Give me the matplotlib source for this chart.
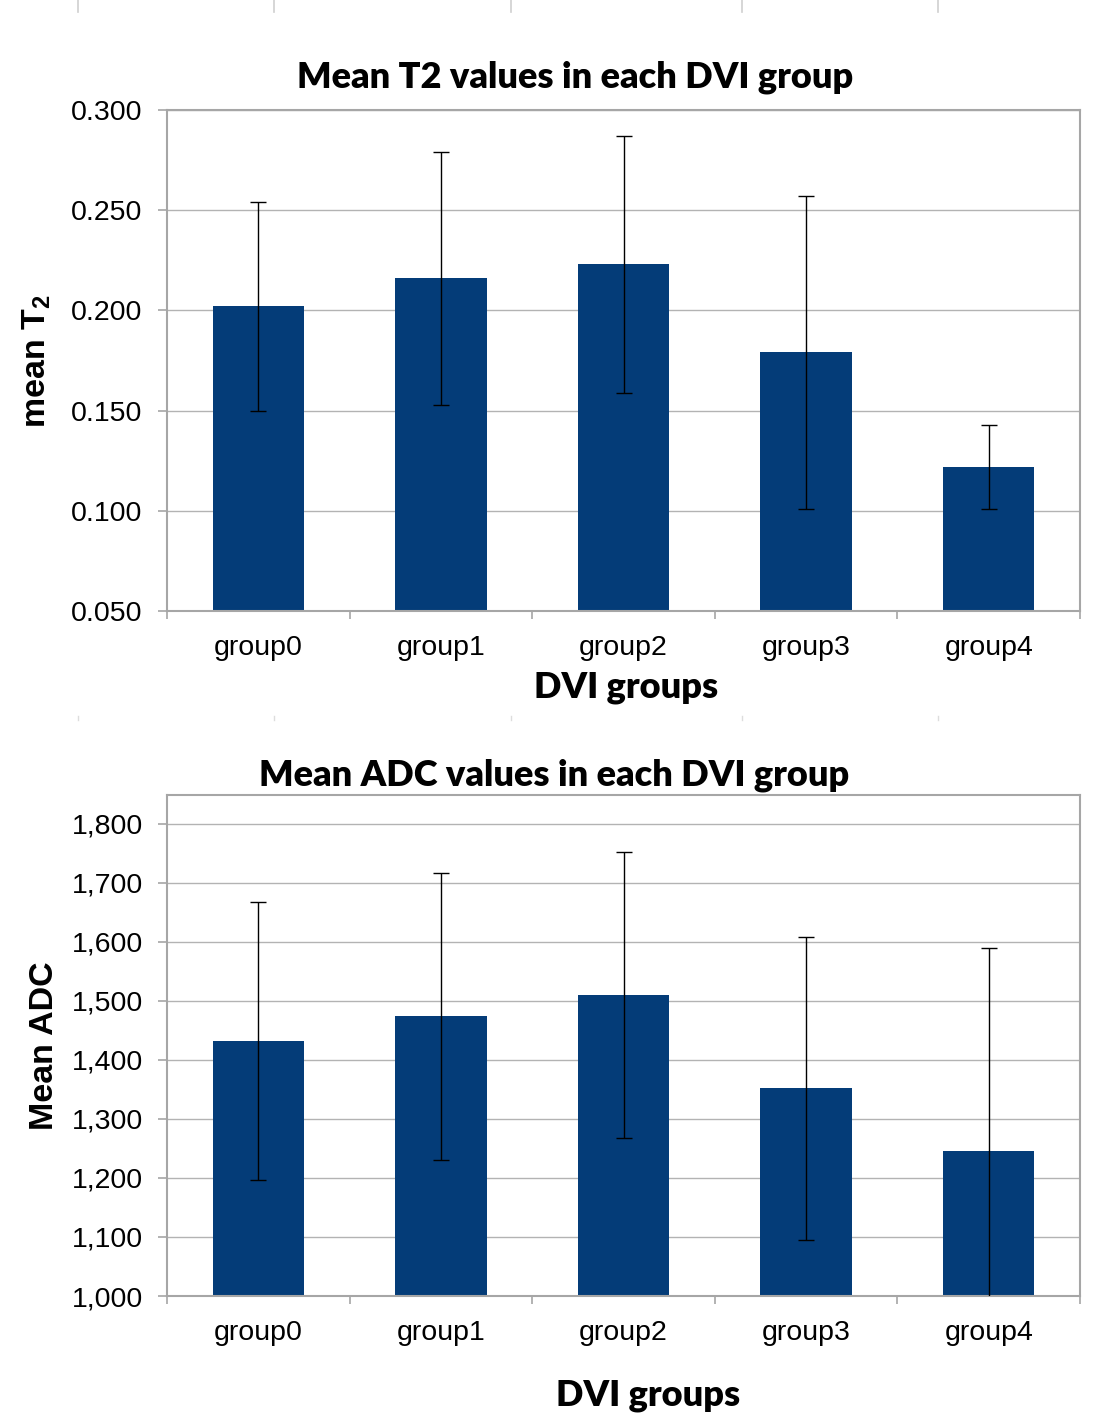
import matplotlib
matplotlib.use("Agg")
import matplotlib.pyplot as plt
from matplotlib.lines import Line2D
import numpy as np

categories = ["group0", "group1", "group2", "group3", "group4"]
t2_mean = [0.202, 0.216, 0.223, 0.179, 0.122]
t2_err = [0.052, 0.063, 0.064, 0.078, 0.021]
adc_mean = [1432, 1474, 1510, 1352, 1245]
adc_err = [236, 243, 242, 257, 344]

t2_ticks = [0.05, 0.10, 0.15, 0.20, 0.25, 0.30]
adc_ticks = [1000, 1100, 1200, 1300, 1400, 1500, 1600, 1700, 1800]

BAR = "#043c78"
GRID = "#b3b3b3"
SPINE = "#a6a6a6"

plt.rcParams["mathtext.fontset"] = "custom"
plt.rcParams["mathtext.bf"] = "Liberation Sans:bold"
plt.rcParams["mathtext.rm"] = "Liberation Sans"

TITLE_FONT = ["Lato", "Liberation Sans", "DejaVu Sans"]
TICK_FONT = ["Liberation Sans", "DejaVu Sans"]

W, H = 1110, 1426
fig = plt.figure(figsize=(W / 100, H / 100), dpi=100)
ax1 = fig.add_axes([167 / W, 1 - 611 / H, 913 / W, 501 / H])
ax2 = fig.add_axes([167 / W, 1 - 1296 / H, 913 / W, 501 / H])


def px(x, y):
    return x / W, 1 - y / H


def style(ax, means, errs, ticks, ylim, fmt):
    x = np.arange(len(categories))
    ax.bar(x, means, width=0.5, color=BAR, zorder=2)
    ax.errorbar(x, means, yerr=errs, fmt="none", ecolor="black",
                elinewidth=1.0, capsize=6, capthick=1.0, zorder=3)
    ax.set_xlim(-0.5, len(categories) - 0.5)
    ax.set_ylim(*ylim)
    ax.set_yticks(ticks)
    ax.set_yticklabels([fmt(t) for t in ticks], fontsize=20.5, family=TICK_FONT)
    ax.yaxis.grid(True, color=GRID, linewidth=1.0, zorder=0)
    ax.set_axisbelow(True)
    ax.set_xticks(x)
    ax.set_xticklabels(categories, fontsize=20.5, family=TICK_FONT)
    ax.tick_params(axis="x", which="major", length=0, pad=17)
    ax.set_xticks(np.arange(len(categories) + 1) - 0.5, minor=True)
    ax.tick_params(axis="x", which="minor", length=6, color=SPINE, width=1.2)
    ax.tick_params(axis="y", length=6.5, color=SPINE, width=1.2, pad=11)
    for s in ax.spines.values():
        s.set_color(SPINE)
        s.set_linewidth(1.5)


style(ax1, t2_mean, t2_err, t2_ticks, (0.05, 0.30), lambda v: f"{v:.3f}")
style(ax2, adc_mean, adc_err, adc_ticks, (1000, 1849), lambda v: f"{v:,.0f}")

title_kw = dict(fontsize=26, fontweight="heavy", family=TITLE_FONT,
                ha="center", va="baseline")
fig.text(*px(575, 88), "Mean T2 values in each DVI group", **title_kw)
fig.text(*px(554, 785), "Mean ADC values in each DVI group", **title_kw)
fig.text(*px(626, 698), "DVI groups", **title_kw)
fig.text(*px(648, 1406), "DVI groups", **title_kw)

ylab_kw = dict(fontsize=24.5, fontweight="bold", family=TICK_FONT,
               rotation=90, ha="center", va="center")
fig.text(*px(37, 361), r"mean $\mathbf{T}_\mathbf{2}$", **ylab_kw)
fig.text(*px(45, 1046), "Mean ADC", **ylab_kw)

# light page separators of the original document
for xf in [78, 274, 511, 742, 938]:
    fig.add_artist(Line2D([xf / W, xf / W], [1, 1 - 12 / H],
                          color="#cfcfcf", linewidth=1.2, transform=fig.transFigure))
    fig.add_artist(Line2D([xf / W, xf / W], [1 - 716 / H, 1 - 720 / H],
                          color="#dddddd", linewidth=1.0, transform=fig.transFigure))

fig.savefig("out.png", dpi=100)
